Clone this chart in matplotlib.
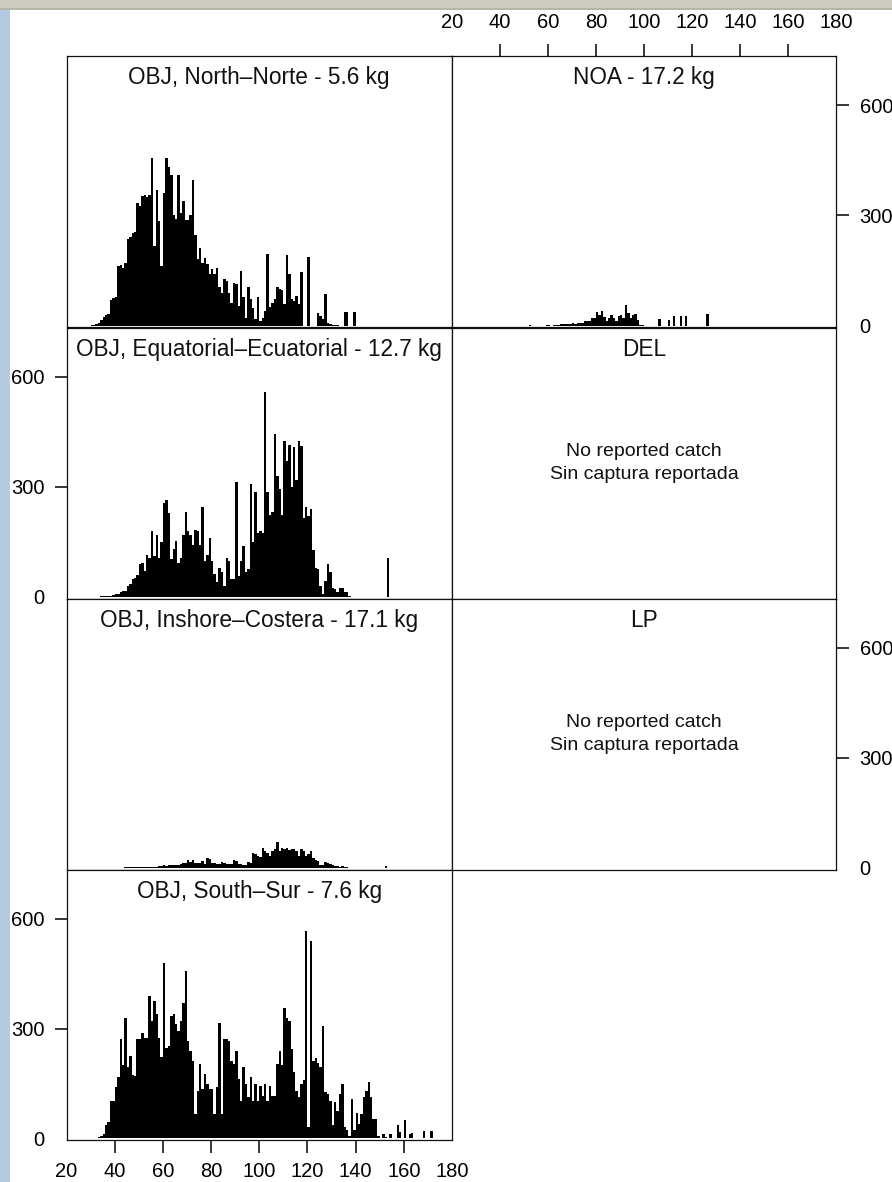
import matplotlib
matplotlib.use("Agg")
import matplotlib.pyplot as plt
from matplotlib.patches import Rectangle
from matplotlib import font_manager

plt.rcParams["font.family"] = ["Liberation Sans", "DejaVu Sans"]

# ---------------- data (catch-at-length, counts per 1 cm bin) ----------------
north_start = 30
north_counts = [1, 2, 4, 8, 15, 24, 30, 32, 70, 74,
                78, 162, 165, 157, 170, 235, 240, 252, 255, 335,
                325, 352, 355, 350, 356, 457, 216, 370, 285, 162,
                360, 457, 432, 410, 300, 290, 410, 306, 338, 288,
                288, 300, 396, 248, 180, 212, 171, 185, 167, 140,
                153, 140, 158, 104, 90, 126, 122, 90, 63, 117,
                113, 54, 149, 77, 22, 104, 72, 47, 18, 79,
                13, 22, 40, 196, 50, 63, 72, 104, 99, 97,
                60, 191, 140, 72, 68, 81, 59, 146, 0, 0,
                187, 0, 0, 0, 34, 27, 18, 86, 7, 4,
                2, 1, 1, 0, 0, 36, 36, 0, 0, 36]

equatorial_start = 34
equatorial_counts = [1, 2, 2, 1, 3, 5, 6, 8, 14, 16,
                     16, 30, 35, 48, 52, 60, 88, 93, 70, 115,
                     106, 178, 110, 169, 106, 150, 255, 264, 228, 102,
                     129, 151, 93, 106, 169, 232, 178, 169, 142, 183,
                     178, 142, 246, 97, 115, 160, 97, 61, 39, 79,
                     66, 30, 106, 97, 48, 48, 313, 57, 97, 138,
                     66, 75, 309, 150, 285, 175, 180, 175, 560, 286,
                     224, 230, 445, 330, 295, 224, 425, 370, 415, 300,
                     408, 318, 425, 412, 214, 245, 220, 240, 128, 79,
                     75, 30, 7, 43, 88, 66, 25, 20, 12, 25,
                     25, 12, 12, 3, 0, 0, 0, 0, 0, 0,
                     0, 0, 0, 0, 0, 0, 0, 0, 0, 106]

inshore_start = 44
inshore_counts = [1, 1, 2, 1, 2, 2, 2, 2, 3, 2,
                  3, 3, 3, 3, 4, 5, 6, 5, 6, 6,
                  7, 6, 8, 9, 13, 12, 20, 15, 20, 13,
                  12, 14, 18, 9, 27, 25, 13, 12, 11, 10,
                  15, 14, 11, 10, 11, 20, 18, 11, 10, 8,
                  7, 15, 12, 40, 36, 31, 28, 54, 45, 40,
                  31, 45, 50, 69, 45, 54, 50, 54, 48, 50,
                  52, 45, 31, 52, 45, 31, 38, 45, 27, 22,
                  18, 6, 8, 15, 12, 9, 6, 4, 4, 3,
                  4, 2, 1, 0, 0, 0, 0, 0, 0, 0,
                  0, 0, 0, 0, 0, 0, 0, 0, 5]

south_start = 33
south_counts = [2, 7, 12, 35, 44, 103, 103, 140, 166, 271,
                200, 330, 194, 225, 174, 171, 271, 271, 289, 275,
                275, 389, 321, 375, 339, 275, 221, 480, 248, 253,
                335, 339, 312, 294, 321, 371, 457, 266, 239, 212,
                66, 130, 203, 135, 175, 148, 135, 135, 66, 140,
                314, 66, 271, 271, 266, 212, 203, 239, 162, 103,
                194, 148, 112, 166, 103, 148, 103, 144, 116, 148,
                103, 144, 116, 116, 203, 239, 200, 357, 330, 321,
                244, 180, 130, 112, 148, 160, 566, 30, 539, 212,
                220, 207, 194, 307, 125, 121, 103, 35, 98, 75,
                121, 148, 30, 21, 5, 107, 21, 68, 39, 66,
                112, 130, 153, 112, 53, 53, 7, 0, 12, 3,
                0, 12, 0, 0, 35, 16, 0, 50, 0, 12,
                14, 0, 0, 0, 0, 19, 0, 0, 19]

noa_start = 52
noa_counts = [2, 0, 0, 0, 0, 0, 0, 3, 3, 0,
              3, 3, 3, 5, 5, 4, 5, 5, 6, 5,
              7, 7, 8, 12, 14, 13, 22, 20, 38, 28,
              40, 24, 14, 22, 30, 20, 12, 25, 30, 22,
              56, 35, 20, 28, 32, 16, 3, 2, 0, 0,
              0, 0, 0, 0, 18, 0, 0, 0, 16, 0,
              27, 0, 0, 27, 0, 27, 0, 0, 0, 0,
              0, 0, 0, 0, 31]

panel_titles = ["OBJ, North\u2013Norte - 5.6 kg", "NOA - 17.2 kg",
                "OBJ, Equatorial\u2013Ecuatorial - 12.7 kg", "DEL",
                "OBJ, Inshore\u2013Costera - 17.1 kg", "LP",
                "OBJ, South\u2013Sur - 7.6 kg"]
no_catch_text = "No reported catch\nSin captura reportada"

x_ticks = [20, 40, 60, 80, 100, 120, 140, 160, 180]
y_ticks = [0, 300, 600]

# ---------------- fonts ----------------
_names = {f.name for f in font_manager.fontManager.ttflist}
if "Liberation Sans Narrow" in _names:
    XLAB_FAMILY, XLAB_FS = ["Liberation Sans Narrow", "Liberation Sans"], 16.5
else:
    XLAB_FAMILY, XLAB_FS = ["Liberation Sans", "DejaVu Sans"], 14.5

# ---------------- layout ----------------
W, H = 892, 1182
fig = plt.figure(figsize=(W / 100, H / 100), dpi=100)
fig.patch.set_facecolor("white")

# slide frame
fig.add_artist(Rectangle((0, 1 - 9 / H), 1, 9 / H, transform=fig.transFigure,
                         facecolor="#cdcdc2", edgecolor="none", zorder=0))
fig.add_artist(Rectangle((0, 1 - 10 / H), 1, 1.5 / H, transform=fig.transFigure,
                         facecolor="#b5b5aa", edgecolor="none", zorder=0))
fig.add_artist(Rectangle((0, 0), 10 / W, 1 - 10 / H, transform=fig.transFigure,
                         facecolor="#b6c9e3", edgecolor="none", zorder=0))

col_x = [(66.5, 452.0), (452.0, 836.0)]
row_y = [55.5, 327.5, 598.5, 869.5, 1140.0]
XLIM = (20, 180)
YLIM = (-5, 735)
TICK_FS = 14.5


def make_ax(r, c):
    x0, x1 = col_x[c]
    y0, y1 = row_y[r], row_y[r + 1]
    ax = fig.add_axes([x0 / W, 1 - y1 / H, (x1 - x0) / W, (y1 - y0) / H])
    ax.set_xlim(*XLIM)
    ax.set_ylim(*YLIM)
    for s in ax.spines.values():
        s.set_linewidth(0.9)
        s.set_color("#111111")
    ax.tick_params(left=False, bottom=False, right=False, top=False,
                   labelleft=False, labelbottom=False, labelright=False, labeltop=False)
    ax.set_xticks(x_ticks)
    ax.set_yticks(y_ticks)
    return ax


def draw_hist(ax, start, counts):
    lengths = list(range(start, start + len(counts)))
    ax.bar(lengths, counts, width=1.0, align="edge", color="black",
           linewidth=0, zorder=2)


def add_title(ax, text):
    ax.text(0.5, 1 - 22 / 272, text, transform=ax.transAxes, ha="center",
            va="center", fontsize=16.3, color="#111111")


def add_no_catch(ax):
    ax.text(0.5, 0.5, no_catch_text, transform=ax.transAxes, ha="center",
            va="center", fontsize=14, color="#111111", linespacing=1.4)


# Row 1
ax = make_ax(0, 0)
draw_hist(ax, north_start, north_counts)
add_title(ax, panel_titles[0])

ax = make_ax(0, 1)
draw_hist(ax, noa_start, noa_counts)
add_title(ax, panel_titles[1])
ax.tick_params(top=True, labeltop=True, right=True, labelright=True,
               direction="out", length=9, width=1.1, pad=8, labelsize=TICK_FS)
for lab in ax.get_xticklabels():
    lab.set_fontfamily(XLAB_FAMILY)
    lab.set_fontsize(XLAB_FS)
ax.xaxis.get_major_ticks()[0].tick2line.set_visible(False)
ax.xaxis.get_major_ticks()[-1].tick2line.set_visible(False)
ax.yaxis.get_major_ticks()[0].tick2line.set_visible(False)

# Row 2
ax = make_ax(1, 0)
draw_hist(ax, equatorial_start, equatorial_counts)
add_title(ax, panel_titles[2])
ax.tick_params(left=True, labelleft=True, direction="out", length=9,
               width=1.1, pad=7, labelsize=TICK_FS)
ax.yaxis.get_major_ticks()[0].tick1line.set_visible(False)

ax = make_ax(1, 1)
add_title(ax, panel_titles[3])
add_no_catch(ax)

# Row 3
ax = make_ax(2, 0)
draw_hist(ax, inshore_start, inshore_counts)
add_title(ax, panel_titles[4])

ax = make_ax(2, 1)
add_title(ax, panel_titles[5])
add_no_catch(ax)
ax.tick_params(right=True, labelright=True, direction="out", length=9,
               width=1.1, pad=8, labelsize=TICK_FS)
ax.yaxis.get_major_ticks()[0].tick2line.set_visible(False)

# Row 4
ax = make_ax(3, 0)
draw_hist(ax, south_start, south_counts)
add_title(ax, panel_titles[6])
ax.tick_params(left=True, labelleft=True, bottom=True, labelbottom=True,
               direction="out", length=9, width=1.1, pad=7, labelsize=TICK_FS)
for lab in ax.get_xticklabels():
    lab.set_fontfamily(XLAB_FAMILY)
    lab.set_fontsize(XLAB_FS)
ax.yaxis.get_major_ticks()[0].tick1line.set_visible(False)
ax.xaxis.get_major_ticks()[0].tick1line.set_visible(False)
ax.xaxis.get_major_ticks()[-1].tick1line.set_visible(False)

fig.savefig("out.png", dpi=100, facecolor=fig.get_facecolor())
